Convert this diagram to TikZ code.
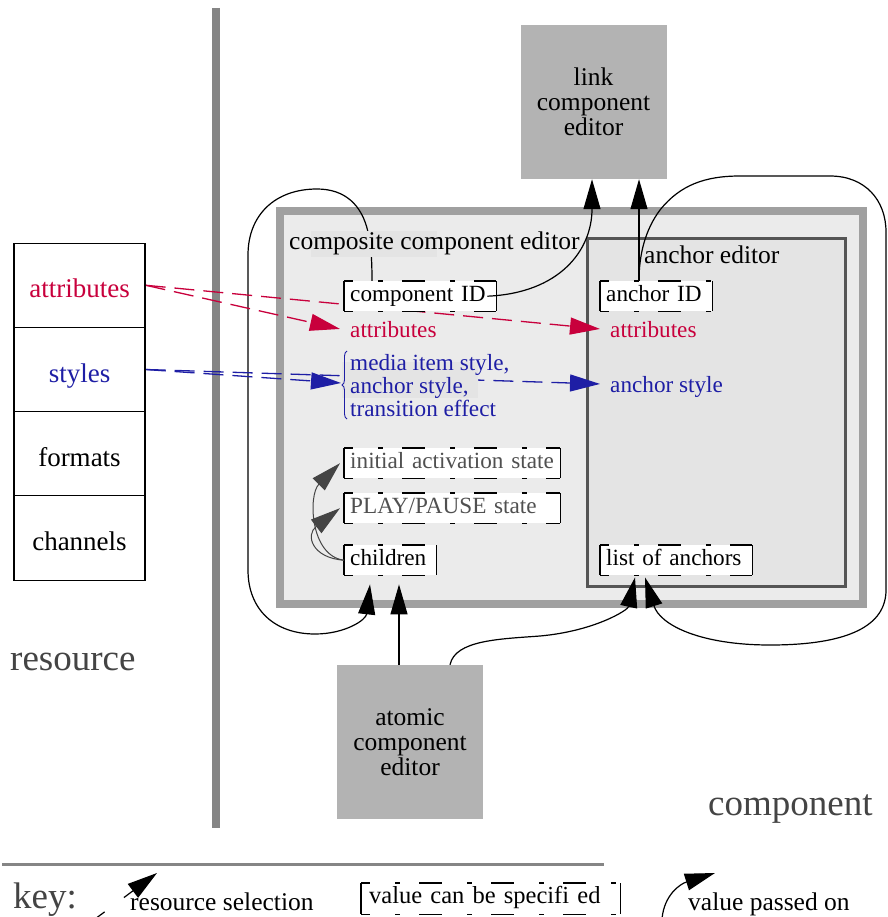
\documentclass[tikz,border=0pt]{standalone}
\usepackage{fontspec}
\setmainfont{Liberation Serif}
\usetikzlibrary{arrows.meta,calc,decorations.pathreplacing}
\pgfdeclarelayer{bg}
\pgfdeclarelayer{lines}
\pgfdeclarelayer{patch}
\pgfsetlayers{bg,lines,patch,main}
\definecolor{resred}{RGB}{200,0,60}
\definecolor{resblue}{RGB}{30,30,165}
\definecolor{boxgray}{RGB}{179,179,179}
\definecolor{compborder}{RGB}{160,160,160}
\definecolor{compfill}{RGB}{235,235,235}
\definecolor{anchborder}{RGB}{85,85,85}
\definecolor{anchfill}{RGB}{228,228,228}
\definecolor{patchgray}{RGB}{228,228,228}
\definecolor{rulegray}{RGB}{133,133,133}
\definecolor{textgray}{RGB}{68,68,68}
\definecolor{valgray}{RGB}{80,80,80}
\newcommand\fsInner{\fontsize{23.2}{23}\selectfont}
\newcommand\fsLabel{\fontsize{25.5}{25}\selectfont}
\newcommand\fsCell{\fontsize{27}{30}\selectfont}
\newcommand\fsKeyT{\fontsize{25.5}{30}\selectfont}
\newcommand\fsKeyB{\fontsize{24.5}{30}\selectfont}
\newcommand\fsBig{\fontsize{37}{40}\selectfont}
\begin{document}
\begin{tikzpicture}[x=1pt,y=-1pt,
  >={Triangle[length=30pt,width=17pt]},
  editorbox/.style={fill=boxgray, minimum width=146pt, minimum height=154pt, inner sep=0pt, align=center, font=\fsLabel},
  cell/.style={draw, line width=1.2pt, minimum width=131pt, minimum height=84.25pt, inner sep=0pt, text height=25pt, text depth=0pt, font=\fsCell},
  vside/.style={solid, draw=black, line width=1.1pt},
  hside/.style={draw=black, line width=1.1pt, dash pattern=on 23pt off 25pt on 5pt off 19pt, dash phase=14pt},
  valbox/.style={fill=white, minimum height=30pt, inner xsep=6pt, inner ysep=0pt, text height=16pt, text depth=5.5pt,
     font=\fsInner, anchor=north west, align=left, text width=#1,
     append after command={(\tikzlastnode.north west) edge[vside] (\tikzlastnode.south west)
                           (\tikzlastnode.north east) edge[vside] (\tikzlastnode.south east)
                           (\tikzlastnode.north west) edge[hside] (\tikzlastnode.north east)
                           (\tikzlastnode.south west) edge[hside] (\tikzlastnode.south east)}},
  rtext/.style={font=\fsInner, text=resred, inner xsep=10pt, inner ysep=0pt, text depth=0pt, anchor=base west},
  btext/.style={font=\fsInner, text=resblue, inner xsep=10pt, inner ysep=0pt, text depth=0pt, anchor=base west},
  plain/.style={anchor=base west, inner sep=0pt},
  conn/.style={->, line width=1.2pt},
  sel/.style={->, line width=1.3pt, dash pattern=on 20pt off 9pt}
]
\useasboundingbox (0,0) rectangle (887,917);

% ---------- background ----------
\begin{pgfonlayer}{bg}
\draw[rulegray, line width=8pt] (216,8) -- (216,828);
\draw[rulegray, line width=3pt] (2,864) -- (604,864);
\node[draw=compborder, line width=8pt, fill=compfill, minimum width=583pt, minimum height=393pt, inner sep=0pt] (comp) at (571.5,407.5) {};
\node[draw=anchborder, line width=3pt, fill=anchfill, minimum width=258pt, minimum height=348pt, inner sep=0pt] (anch) at (716.5,412.5) {};
\end{pgfonlayer}

\begin{pgfonlayer}{patch}
\fill[patchgray] (311,231) rectangle (437,257);
\fill[patchgray] (342,362) rectangle (478,398);
\end{pgfonlayer}

% ---------- editors ----------
\node[editorbox] (link) at (593.5,102) {link\\component\\editor};
\node[editorbox] (atomic) at (410,742) {atomic\\component\\editor};

% ---------- resource table ----------
\node[cell, text=resred] (tattr) at (79.5,285.25) {attributes};
\node[cell, text=resblue] (tsty) at (79.5,369.5) {styles};
\node[cell] (tfmt) at (79.5,453.75) {formats};
\node[cell] (tchan) at (79.5,538) {channels};

% ---------- labels ----------
\node[plain, font=\fsLabel] (clabel) at (289,249) {composite component editor};
\node[plain, font=\fsLabel] (alabel) at (644,263) {anchor editor};
\node[plain, font=\fsBig, text=textgray] (lres) at (10,670) {resource};
\node[plain, font=\fsBig, text=textgray] (lcomp) at (708,815) {component};

% ---------- value boxes ----------
\node[valbox=140pt] (cid) at (344,281) {component ID};
\node[valbox=100pt] (aid) at (600,281) {anchor ID};
\node[valbox=204pt, text=valgray] (cinit) at (344,448) {initial activation state};
\node[valbox=204pt, text=valgray] (cplay) at (344,493) {PLAY/PAUSE state};
\node[valbox=80pt] (cchild) at (344,545) {children};
\node[valbox=140pt] (lanch) at (600,545) {list of anchors};

% ---------- coloured values ----------
\node[rtext] (cattr) at (340,337) {attributes};
\node[rtext] (aattr) at (600,337) {attributes};
\node[btext] (astyle) at (600,392) {anchor style};
\node[font=\fsInner, text=resblue, align=left, anchor=north west, inner sep=0pt] (cstyle) at (350,354) {media item style,\\anchor style,\\transition effect};
\draw[resblue, line width=0.9pt, decorate, decoration={brace, amplitude=5pt}] (347,419) -- (347,351);
\coordinate (bracetip) at (341,383);

% ---------- connectors under labels ----------
\begin{pgfonlayer}{lines}
\draw[conn] ($(cid.north west)+(28,0)$) .. controls (372,260) and (371,245) .. (368,232)
   .. controls (362,205) and (345,189) .. (317,189)
   .. controls (275,189) and (248,215) .. (248,255) -- (248,570)
   .. controls (248,610) and (275,634) .. (315,634)
   .. controls (345,634) and (366,620) .. ($(cchild.south west)+(26,9)$);
\draw[conn] ($(aid.north west)+(39,0)$) .. controls (639,255) and (645,230) .. (660,210)
   .. controls (680,185) and (705,176) .. (740,176) -- (830,176)
   .. controls (865,176) and (886,200) .. (886,232) -- (886,590)
   .. controls (886,625) and (850,645) .. (770,645)
   .. controls (700,645) and (660,625) .. ($(lanch.south west)+(45,2)$);
\draw[sel, resred] (tattr.east) -- (cattr.west);
\draw[sel, resred] (tattr.east) -- (aattr.west);
\draw[sel, resblue] (tsty.east) -- (bracetip);
\draw[sel, resblue] (tsty.east) -- (astyle.west);
\end{pgfonlayer}

% ---------- connectors on top ----------
\draw[conn] ($(cid.east)+(-9,0)$) .. controls (560,293) and (592,250) .. ($(link.south)+(-1.5,0)$);
\draw[conn] ($(aid.north west)+(39,0)$) -- ($(link.south)+(45.5,0)$);
\draw[conn] ($(atomic.north)+(-11,0)$) -- ($(cchild.south west)+(55,9)$);
\draw[conn] ($(atomic.north)+(40,0)$) .. controls (455,640) and (500,639) .. (540,636)
   .. controls (595,631) and (628,610) .. ($(lanch.south west)+(35,2)$);
\draw[conn, textgray, line width=1pt] (cchild.west) .. controls (312,558) and (305,535) .. ($(cplay.west)+(-4,0)$);
\draw[conn, textgray, line width=1pt] (cchild.west) .. controls (310,556) and (308,495) .. ($(cinit.west)+(-4,0)$);

% ---------- key ----------
\node[plain, font=\fsBig, text=textgray] (keyl) at (13,908) {key:};
\node[plain, font=\fsKeyT] (ksel) at (130,910) {resource selection};
\node[valbox=243pt, inner xsep=8pt, font=\fsKeyB, minimum height=31pt] (kval) at (361,883) {\mbox{value can be specifi ed}};
\node[plain, font=\fsKeyT] (kpass) at (688,910) {value passed on};
\coordinate (ks0) at (95,919);
\coordinate (ks1) at (157,873);
\coordinate (kp0) at (662,919);
\coordinate (kp1) at (715,873);
\draw[conn, dash pattern=on 12pt off 24pt] (ks0) -- (ks1);
\draw[conn] (kp0) .. controls (664,895) and (680,884) .. (kp1);
\end{tikzpicture}
\end{document}
